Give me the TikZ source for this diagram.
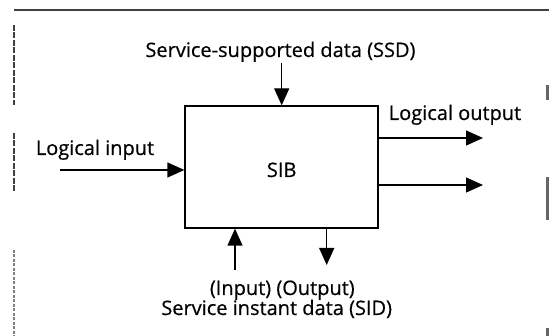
\documentclass[tikz,border=0pt]{standalone}
\usepackage{fontspec}
\setmainfont[FakeBold=0.5,BoldFont=Open Sans]{Open Sans}
\usetikzlibrary{arrows.meta}
\begin{document}
\begin{tikzpicture}[x=1pt,y=-1pt,
  lbl/.style={font=\fontsize{20}{24}\selectfont\bfseries, inner sep=0pt, anchor=base},
  conn/.style={line width=1.3pt, -{Triangle[length=17pt,width=15pt]}},
  frameline/.style={line width=1.2pt, black!75}]
\useasboundingbox (0,0) rectangle (549,336);
% frame
\draw[frameline] (14,10) -- (549,10);
\draw[frameline, dash pattern=on 6pt off 1.5pt] (14,25) -- (14,105);
\draw[frameline, dash pattern=on 6pt off 1.5pt] (14,133) -- (14,193);
\draw[frameline, dash pattern=on 3pt off 1.5pt, black!50] (14,250) -- (14,336);
\fill[black!60] (546,85) rectangle (549,100);
\fill[black!60] (546,177) rectangle (549,220);
\fill[black!60] (546,328) rectangle (549,336);
% box
\node[draw, line width=1.3pt, minimum width=193pt, minimum height=122pt, inner sep=0pt] (sib) at (281.5,167) {};
\node[lbl] (sibt) at (281.7,177) {SIB};
% labels
\node[lbl] (ssd) at (280.5,57) {Service-supported data (SSD)};
\node[lbl] (lin) at (95,155) {Logical input};
\node[lbl] (lout) at (455,120) {Logical output};
\node[lbl] (io) at (282.3,295) {(Input) (Output)};
\node[lbl] (sid) at (276.7,315) {Service instant data (SID)};
% connector endpoints
\coordinate (ssdS) at (281.7,63);
\coordinate (linS) at (60,170);
\coordinate (o1E) at (483,138);
\coordinate (o2E) at (483,185);
\coordinate (inS) at (235,270);
\coordinate (outE) at (326.7,265);
% connectors
\draw[conn] (ssdS) -- (ssdS |- sib.north);
\draw[conn] (linS) -- (linS -| sib.west);
\draw[conn] (o1E -| sib.east) -- (o1E);
\draw[conn] (o2E -| sib.east) -- (o2E);
\draw[conn] (inS) -- (inS |- sib.south);
\draw[conn] (outE |- sib.south) -- (outE);
\end{tikzpicture}
\end{document}
